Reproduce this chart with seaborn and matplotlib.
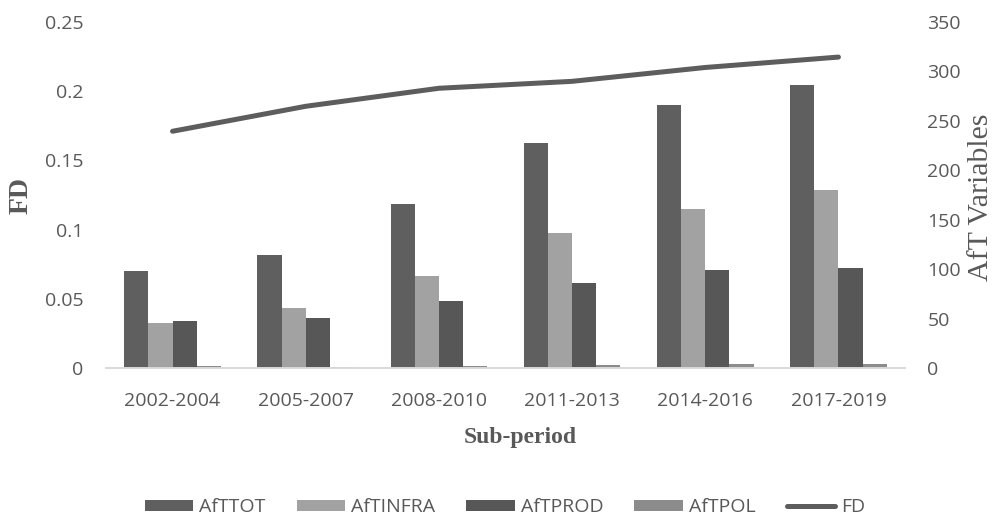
import numpy as np
import pandas as pd
import matplotlib
matplotlib.use("Agg")
import matplotlib.pyplot as plt
from matplotlib.patches import Patch
from matplotlib.lines import Line2D
import seaborn as sns

# Sub-periods and series values
periods = ["2002-2004", "2005-2007", "2008-2010", "2011-2013", "2014-2016", "2017-2019"]
aft_tot = [98, 114.5, 166, 228, 266, 286]
aft_infra = [45.5, 61, 93.5, 137, 161, 180]
aft_prod = [48, 50.5, 68, 86, 99, 101]
aft_pol = [2.6, 1.5, 2.6, 3.3, 4, 4]
fd = [0.171, 0.189, 0.202, 0.207, 0.217, 0.2245]

series_names = ["AfTTOT", "AfTINFRA", "AfTPROD", "AfTPOL"]
bar_colors = ["#5f5f5f", "#a2a2a2", "#575757", "#8c8c8c"]
line_color = "#5d5d5d"
text_color = "#595959"

sns.set_theme(style="white")
plt.rcParams["font.family"] = ["Open Sans", "DejaVu Sans"]

aft = pd.DataFrame({
    "period": np.repeat(periods, 4),
    "series": series_names * len(periods),
    "value": np.ravel(np.column_stack([aft_tot, aft_infra, aft_prod, aft_pol])),
})
fd_df = pd.DataFrame({"pos": np.arange(len(periods)), "FD": fd})

fig = plt.figure(figsize=(9.94, 5.16), dpi=100)
ax = fig.add_axes([0.1066, 0.2862, 0.8039, 0.6717])
ax2 = ax.twinx()

# AfT bars on the right-hand axis
sns.barplot(data=aft, x="period", y="value", hue="series", order=periods,
            hue_order=series_names, palette=bar_colors, width=0.726,
            linewidth=0, saturation=1, ax=ax2, legend=False)

# FD line on the left-hand axis
sns.lineplot(data=fd_df, x="pos", y="FD", color=line_color, linewidth=3.6,
             solid_capstyle="round", ax=ax)

ax.set_zorder(ax2.get_zorder() + 1)
ax.patch.set_visible(False)

ax.set_xlim(-0.5, len(periods) - 0.5)
ax.set_ylim(0, 0.25)
ax.set_yticks([0, 0.05, 0.1, 0.15, 0.2, 0.25])
ax.set_yticklabels(["0", "0.05", "0.1", "0.15", "0.2", "0.25"])
ax2.set_ylim(0, 350)
ax2.set_yticks(range(0, 351, 50))
ax.set_xticks(range(len(periods)))
ax.set_xticklabels(periods)

for a in (ax, ax2):
    a.set_xlabel("")
    a.set_ylabel("")
    for s in ("top", "left", "right"):
        a.spines[s].set_visible(False)
    a.spines["bottom"].set_color("#d9d9d9")
    a.spines["bottom"].set_linewidth(1.2)
    a.tick_params(length=0, labelsize=14, labelcolor=text_color)
    a.grid(False)

ax.tick_params(axis="y", pad=16)
ax2.tick_params(axis="y", pad=16)
ax.tick_params(axis="x", pad=17)
ax2.tick_params(axis="x", labelbottom=False)

serif = ["Liberation Serif", "DejaVu Serif"]
fig.text(0.021, 0.622, "FD", rotation=90, ha="center", va="center",
         fontsize=20, fontweight="bold", color=text_color, family=serif)
fig.text(0.987, 0.617, "AfT Variables", rotation=90, ha="center", va="center",
         fontsize=21.5, color=text_color, family=serif)
fig.text(0.523, 0.152, "Sub-period", ha="center", va="center",
         fontsize=17, fontweight="bold", color=text_color, family=serif)

handles = [Patch(facecolor=c, edgecolor="none") for c in bar_colors]
handles.append(Line2D([], [], color=line_color, linewidth=3.6, solid_capstyle="round"))
labels = series_names + ["FD"]
fig.legend(handles, labels, loc="center", bbox_to_anchor=(0.508, 0.017),
           ncol=5, frameon=False, fontsize=14, handlelength=2.5,
           handleheight=0.5, handletextpad=0.3, columnspacing=1.6,
           labelcolor=text_color)

fig.savefig("out.png", dpi=100)
